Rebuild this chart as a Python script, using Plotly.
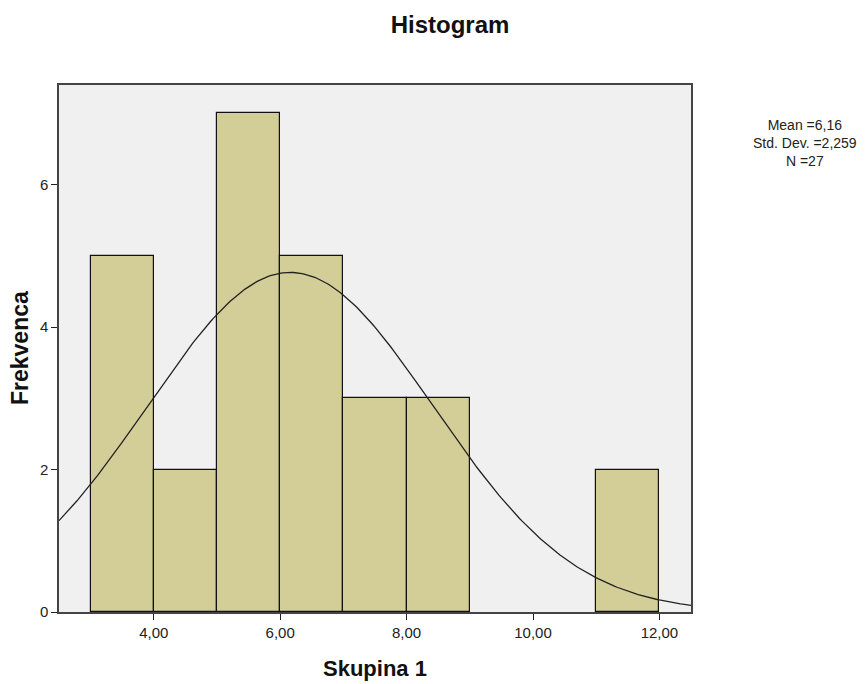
import numpy as np
import plotly.graph_objects as go

bin_left = [3, 4, 5, 6, 7, 8, 11]
counts = [5, 2, 7, 5, 3, 3, 2]
bin_width = 1.0
mean_val = 6.16
std_val = 2.259
n_val = 27
x_ticks = [4, 6, 8, 10, 12]
y_ticks = [0, 2, 4, 6]

centers = [b + bin_width / 2 for b in bin_left]

xs = np.linspace(2.5, 12.5, 300)
ys = n_val * bin_width / (std_val * np.sqrt(2 * np.pi)) * np.exp(-0.5 * ((xs - mean_val) / std_val) ** 2)

fig = go.Figure()
fig.add_trace(go.Bar(x=centers, y=counts, width=bin_width,
                     marker=dict(color="#D3CE97", line=dict(color="#111111", width=1.2)),
                     showlegend=False))
fig.add_trace(go.Scatter(x=xs, y=ys, mode="lines", line=dict(color="#222222", width=1.3),
                         showlegend=False))

font = "Liberation Sans, Arial, sans-serif"
# page body has 8px offset; plot area target: x 59-691, y 85-612 in page pixels
L, R, T, B = 51, 175, 77, 72
W, H = 858, 676
pw, ph = W - L - R, H - T - B

def px(xp):
    return (xp - 8 - L) / pw

def py(yp):
    return (H - B - (yp - 8)) / ph

fig.update_layout(
    width=W, height=H,
    margin=dict(l=L, r=R, t=T, b=B),
    paper_bgcolor="white", plot_bgcolor="#F0F0F0",
    separators=",.",
    font=dict(family=font, size=15, color="#222222"),
    title=dict(text="<b>Histogram</b>", x=(450 - 8) / W, xanchor="center", y=1 - (25 - 8) / H, yanchor="middle",
               font=dict(family=font, size=24, color="#111111")),
    bargap=0,
    xaxis=dict(range=[2.5, 12.5], tickvals=x_ticks, tickformat=".2f", ticks="outside", ticklen=6,
               tickcolor="#222222", showgrid=False, zeroline=False, showline=True, mirror=True,
               linecolor="#444444", linewidth=1.5),
    yaxis=dict(range=[0, 7.4], tickvals=y_ticks, ticks="outside", ticklen=6,
               tickcolor="#222222", showgrid=False, zeroline=False, showline=True, mirror=True,
               linecolor="#444444", linewidth=1.5),
)

fig.add_annotation(xref="paper", yref="paper", x=px(375), y=py(668),
                   text="<b>Skupina 1</b>", showarrow=False, xanchor="center", yanchor="middle",
                   font=dict(family=font, size=22, color="#111111"))
fig.add_annotation(xref="paper", yref="paper", x=px(20), y=py(348), textangle=-90,
                   text="<b>Frekvenca</b>", showarrow=False, xanchor="center", yanchor="middle",
                   font=dict(family=font, size=23, color="#111111"))
fig.add_annotation(xref="paper", yref="paper", x=px(805), y=py(143),
                   text="Mean =6,16<br>Std. Dev. =2,259<br>N =27", showarrow=False, align="center",
                   xanchor="center", yanchor="middle", font=dict(family=font, size=14, color="#222222"))

fig.write_html("out.html")
